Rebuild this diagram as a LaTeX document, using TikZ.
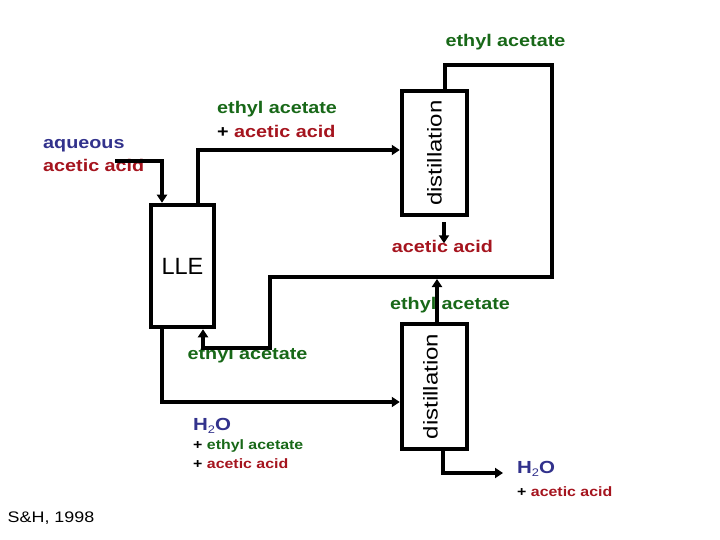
\documentclass[tikz,border=0pt]{standalone}
\usepackage{fontspec}
\usepackage{graphicx}
\setmainfont{Liberation Sans}[FakeStretch=1.17]
\newfontfamily\plainsans{Liberation Sans}
\newfontfamily\distfont{Liberation Sans}[FakeStretch=1.2]
\usetikzlibrary{arrows.meta}
\definecolor{eagreen}{RGB}{24,104,24}
\definecolor{aared}{RGB}{165,20,30}
\definecolor{aqblue}{RGB}{50,50,140}
\newcommand{\lowsub}[1]{\raisebox{-0.35ex}{\fontsize{11}{11}\selectfont\mdseries #1}}
\begin{document}
\begin{tikzpicture}[x=1pt,y=-1pt,
  unit/.style={draw, line width=4.5pt, inner sep=0pt},
  lbl/.style={font=\bfseries\fontsize{16.9}{24}\selectfont, inner sep=0pt},
  sml/.style={font=\bfseries\fontsize{13.6}{19}\selectfont, inner sep=0pt},
  flow/.style={line width=4pt, -{Triangle[length=8pt,width=10pt]}}]
\useasboundingbox (0,0) rectangle (720,540);

% units
\node[unit, minimum width=63pt, minimum height=122pt,
      font=\plainsans\fontsize{23.5}{24}\selectfont] (lle) at (182.5,266) {LLE};
\node[unit, minimum width=65pt, minimum height=124pt,
      font=\distfont\fontsize{20}{20}\selectfont] (d1) at (434.5,153) {\rotatebox{90}{distillation}};
\node[unit, minimum width=65pt, minimum height=125pt,
      font=\distfont\fontsize{20}{20}\selectfont] (d2) at (434.5,386.5) {\rotatebox{90}{distillation}\hspace*{8pt}};

% labels
\node[lbl, text=eagreen] (eatop) at (505.5,42) {ethyl acetate};
\node[lbl, align=left, anchor=west] (feed2) at (217,119)
  {\textcolor{eagreen}{ethyl acetate}\\+ \textcolor{aared}{acetic acid}};
\node[lbl, align=left, anchor=west, font=\bfseries\fontsize{16.9}{23}\selectfont] (aq) at (43,156)
  {\textcolor{aqblue}{aqueous}\\\textcolor{aared}{acetic acid}};
\node[lbl, text=aared] (aa1) at (442.5,246) {acetic acid};
\node[lbl, text=eagreen] (ea2) at (450,305) {ethyl acetate};
\node[lbl, text=eagreen] (ea3) at (247.5,355) {ethyl acetate};
\node[sml, align=left, anchor=north west] (raff) at (193,418)
  {{\fontsize{17.5}{19}\selectfont\textcolor{aqblue}{H\lowsub{2}O}}\\
   + \textcolor{eagreen}{ethyl acetate}\\
   + \textcolor{aared}{acetic acid}};
\node[sml, align=left, anchor=north west, font=\bfseries\fontsize{13.6}{23}\selectfont] (bot) at (517,461)
  {{\fontsize{17.5}{23}\selectfont\textcolor{aqblue}{H\lowsub{2}O}}\\
   + \textcolor{aared}{acetic acid}};
\node[inner sep=0pt, font=\fontsize{15.3}{16}\selectfont] (cite) at (51,518) {S\&H, 1998};

% coordinates
\coordinate (aqin) at (115,161);
\coordinate (r1) at (552,65);
\coordinate (r2) at (270,277);
\coordinate (r3) at (203,348);
\coordinate (j) at (437,279);
\coordinate (out2) at (503,473);

% connectors
\draw[flow] (aqin) -| ([xshift=-20.5pt]lle.north);
\draw[flow] ([xshift=15.5pt]lle.north) |- ([yshift=3pt]d1.west);
\draw[flow] ([xshift=10.5pt]d1.north) |- (r1) |- (r2) |- (r3) -| ([xshift=20.5pt]lle.south);
\draw[flow] ([xshift=9.5pt,yshift=-5pt]d1.south) -- ++(0,21);
\draw[flow] ([xshift=-20.5pt]lle.south) |- ([yshift=-15.5pt]d2.west);
\draw[flow] ([xshift=2.5pt]d2.north) -- (j);
\draw[flow] ([xshift=8.5pt]d2.south) |- (out2);
\end{tikzpicture}
\end{document}
